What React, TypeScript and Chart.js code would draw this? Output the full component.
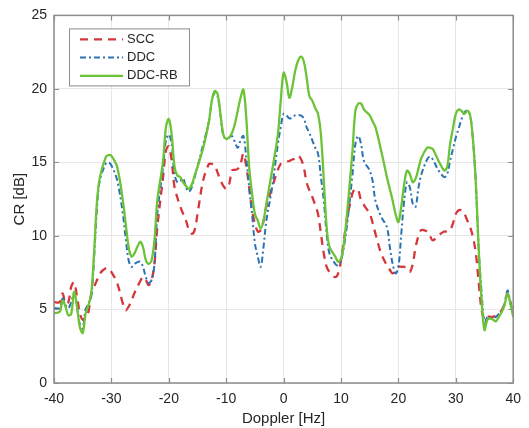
import React, { useEffect, useRef } from "react";
import { Chart, registerables } from "chart.js";

Chart.register(...registerables);

const dopplerHz = [
  -40, -39, -38.5, -38, -37.5, -37, -36.5, -36, -35.5, -35, -34.5, -34, -33.5, -33, -32.5, -32, -31, -30.5, -30, -29,
  -28, -27.5, -27, -26.5, -26, -25, -24.5, -24, -23.5, -23, -22.5, -22, -21, -20.5, -20, -19.5, -19, -18.5, -18, -17.5,
  -17, -16.5, -16, -15.5, -15, -14, -13, -12.5, -12, -11.5, -11, -10.5, -10, -9.5, -9, -8.5, -8, -7.5, -7, -6.5,
  -6, -5.5, -5, -4.5, -4, -3.5, -3, -2, -1, -0.5, 0, 0.5, 1, 1.5, 2, 2.5, 3, 3.5, 4, 4.5,
  5, 5.5, 6, 6.5, 7, 7.5, 8, 9, 9.5, 10, 10.5, 11, 12, 12.5, 13, 13.5, 14, 15, 15.5, 16,
  17, 18, 18.5, 19, 19.5, 20, 20.5, 21, 21.5, 22, 22.5, 23, 23.5, 24, 25, 25.5, 26, 27, 28, 28.5,
  29, 29.5, 30, 30.5, 31, 31.5, 32, 32.5, 33, 33.5, 34, 34.5, 35, 35.5, 36, 36.5, 37, 37.5, 38, 38.5,
  39, 39.5, 40,
];

const sccDb = [
  5.5, 5.5, 6.1, 5.4, 5.5, 6.55, 6.85, 5.9, 4.75, 4.3, 4.5, 4.85, 6.1, 6.55, 7.0, 7.45, 7.8, 7.8, 7.55, 6.8,
  5.4, 4.95, 5.2, 5.6, 6.1, 6.9, 7.2, 7.0, 6.65, 7.0, 8.1, 10.6, 14.0, 15.8, 16.1, 15.1, 13.3, 12.6, 12.0, 11.5,
  11.05, 10.4, 10.15, 10.4, 11.5, 13.8, 14.9, 14.9, 14.8, 14.3, 13.8, 13.4, 13.2, 13.5, 14.45, 14.5, 14.55, 14.9, 15.6, 14.7,
  13.3, 11.75, 10.85, 10.3, 10.4, 11.0, 12.0, 13.3, 14.5, 14.9, 15.0, 15.05, 15.1, 15.2, 15.25, 15.45, 15.25, 14.7, 13.65, 13.1,
  12.65, 12.1, 11.5, 10.15, 8.8, 7.9, 7.55, 7.2, 7.45, 8.35, 9.7, 11.05, 12.9, 13.2, 13.1, 12.4, 12.1, 11.5, 10.9, 10.15,
  8.8, 8.0, 7.7, 7.45, 7.65, 7.9, 7.9, 7.9, 7.7, 7.55, 8.1, 9.25, 10.0, 10.4, 10.3, 10.0, 9.7, 10.05, 10.3, 10.3,
  10.4, 10.85, 11.5, 11.75, 11.75, 11.5, 11.05, 10.6, 9.9, 8.8, 6.8, 4.95, 4.3, 4.5, 4.5, 4.5, 4.6, 4.75, 4.95, 5.4,
  6.1, 5.5, 4.6,
];

const ddcDb = [
  5.1, 5.1, 5.75, 5.3, 5.1, 5.5, 6.1, 5.2, 4.0, 3.7, 5.0, 5.4, 5.9, 8.6, 12.0, 13.8, 14.9, 15.0, 14.8, 13.8,
  11.5, 9.8, 8.35, 7.9, 8.1, 8.25, 7.9, 7.2, 6.8, 7.0, 8.1, 11.5, 14.7, 16.5, 16.9, 16.25, 14.2, 13.65, 13.75, 13.9,
  13.3, 13.0, 13.3, 14.0, 14.7, 16.25, 17.8, 19.2, 19.75, 19.5, 18.2, 16.8, 16.6, 16.7, 16.8, 16.4, 16.0, 16.5, 16.8, 15.3,
  13.3, 11.5, 9.5, 8.6, 7.9, 9.25, 11.05, 13.3, 16.25, 17.4, 18.3, 18.2, 18.0, 18.05, 18.2, 18.2, 18.2, 18.0, 17.4, 17.0,
  16.5, 16.0, 15.6, 14.0, 12.4, 10.15, 8.8, 8.1, 8.0, 8.35, 9.25, 10.6, 14.2, 16.25, 16.8, 16.25, 15.1, 14.45, 13.75, 12.4,
  11.3, 10.6, 9.25, 8.1, 7.45, 7.9, 10.15, 12.4, 13.65, 13.3, 12.2, 12.0, 13.3, 14.2, 15.2, 15.4, 15.2, 14.45, 14.0, 14.2,
  15.1, 15.9, 16.7, 17.3, 17.95, 18.4, 18.5, 18.2, 16.5, 13.5, 9.0, 6.1, 3.95, 4.5, 4.4, 4.45, 4.5, 4.7, 4.85, 5.4,
  6.3, 5.5, 4.75,
];

const ddcRbDb = [
  4.75, 4.85, 5.6, 5.2, 4.6, 4.7, 6.2, 5.2, 3.8, 3.4, 4.7, 5.3, 6.1, 9.0, 12.4, 14.0, 15.35, 15.5, 15.45, 14.7,
  12.4, 10.8, 9.25, 8.6, 8.8, 9.6, 9.25, 8.35, 8.1, 8.35, 9.7, 12.4, 15.1, 17.4, 17.95, 16.9, 14.7, 14.1, 14.0, 13.65,
  13.4, 13.2, 13.5, 14.1, 14.7, 16.0, 17.8, 19.2, 19.85, 19.65, 18.3, 16.9, 16.6, 16.7, 17.0, 17.6, 18.5, 19.4, 19.95, 18.0,
  14.7, 12.9, 11.5, 11.05, 10.5, 11.05, 12.2, 14.45, 16.9, 19.2, 21.1, 20.5, 19.4, 20.1, 21.2, 21.9, 22.2, 21.9, 20.8, 19.5,
  19.2, 18.7, 18.3, 16.9, 13.8, 10.6, 9.25, 8.6, 8.25, 8.45, 9.5, 11.3, 15.8, 18.5, 19.0, 19.0, 18.6, 18.2, 17.8, 17.4,
  15.8, 14.0, 13.2, 12.4, 11.5, 10.95, 12.0, 13.5, 14.45, 14.2, 13.65, 13.9, 14.6, 15.3, 16.0, 16.0, 15.9, 15.1, 14.45, 14.7,
  16.25, 17.3, 18.3, 18.6, 18.5, 18.3, 18.5, 18.2, 16.5, 13.5, 9.0, 5.6, 3.6, 4.3, 4.4, 4.3, 4.2, 4.5, 4.85, 5.3,
  6.1, 5.4, 4.5,
];

const seriesLabels = ["SCC", "DDC", "DDC-RB"];
const xTicks = [-40, -30, -20, -10, 0, 10, 20, 30, 40];
const yTicks = [0, 5, 10, 15, 20, 25];

const FONT = "'Liberation Sans', Arial, Helvetica, sans-serif";

const matlabBox = {
  id: "matlabBox",
  afterDatasetsDraw(chart: any) {
    const { ctx, chartArea } = chart;
    const { left, right, top, bottom } = chartArea;
    const xs = chart.scales.x;
    const ys = chart.scales.y;
    ctx.save();
    ctx.strokeStyle = "#8c8c8c";
    ctx.lineWidth = 1.2;
    ctx.beginPath();
    const tl = 5;
    xTicks.forEach((v) => {
      const p = Math.round(xs.getPixelForValue(v)) + 0.5;
      ctx.moveTo(p, bottom);
      ctx.lineTo(p, bottom - tl);
      ctx.moveTo(p, top);
      ctx.lineTo(p, top + tl);
    });
    yTicks.forEach((v) => {
      const p = Math.round(ys.getPixelForValue(v)) + 0.5;
      ctx.moveTo(left, p);
      ctx.lineTo(left + tl, p);
      ctx.moveTo(right, p);
      ctx.lineTo(right - tl, p);
    });
    ctx.stroke();
    ctx.lineWidth = 1.5;
    ctx.strokeRect(left, top, right - left, bottom - top);

    // legend
    const lx = left + 15;
    const ly = top + 13;
    const lw = 120;
    const lh = 57;
    ctx.fillStyle = "#ffffff";
    ctx.fillRect(lx, ly, lw, lh);
    ctx.strokeStyle = "#8c8c8c";
    ctx.lineWidth = 1;
    ctx.strokeRect(lx + 0.5, ly + 0.5, lw, lh);
    ctx.font = `13px ${FONT}`;
    ctx.textBaseline = "middle";
    ctx.textAlign = "left";
    chart.data.datasets.forEach((ds: any, i: number) => {
      const yy = ly + 11 + i * 18.2;
      ctx.save();
      ctx.strokeStyle = ds.borderColor;
      ctx.lineWidth = ds.borderWidth;
      ctx.setLineDash(ds.borderDash || []);
      ctx.beginPath();
      ctx.moveTo(lx + 11, yy);
      ctx.lineTo(lx + 54, yy);
      ctx.stroke();
      ctx.restore();
      ctx.fillStyle = "#262626";
      ctx.fillText(ds.label, lx + 58, yy);
    });
    ctx.restore();
  },
};

export default function App() {
  const ref = useRef<HTMLCanvasElement>(null);
  useEffect(() => {
    document.body.style.margin = "0";
    const canvas = ref.current;
    if (!canvas) return;
    const mk = (ys: number[]) => dopplerHz.map((x, i) => ({ x, y: ys[i] }));
    const chart = new Chart(canvas, {
      type: "line",
      data: {
        datasets: [
          {
            label: seriesLabels[0],
            data: mk(sccDb),
            borderColor: "#d6363a",
            borderWidth: 2.3,
            borderDash: [8, 6],
            pointRadius: 0,
            tension: 0.35,
            order: 2,
          },
          {
            label: seriesLabels[1],
            data: mk(ddcDb),
            borderColor: "#2a72b3",
            borderWidth: 2,
            borderDash: [6, 3, 2, 3],
            pointRadius: 0,
            tension: 0.35,
            order: 1,
          },
          {
            label: seriesLabels[2],
            data: mk(ddcRbDb),
            borderColor: "#6cc336",
            borderWidth: 2.3,
            pointRadius: 0,
            tension: 0.35,
            order: 0,
          },
        ],
      },
      plugins: [matlabBox],
      options: {
        responsive: false,
        animation: false,
        devicePixelRatio: 1,
        layout: { padding: { top: 14, right: 12, left: 0, bottom: 0 } },
        plugins: {
          legend: { display: false },
          tooltip: { enabled: false },
        },
        scales: {
          x: {
            type: "linear",
            min: -40,
            max: 40,
            afterBuildTicks: (s: any) => {
              s.ticks = xTicks.map((v) => ({ value: v }));
            },
            afterFit: (s: any) => {
              s.height = 45;
            },
            grid: { color: "#e6e6e6", lineWidth: 1, drawTicks: false },
            border: { display: false },
            ticks: {
              padding: 8,
              color: "#262626",
              font: { family: FONT, size: 14 },
              maxRotation: 0,
              autoSkip: false,
            },
            title: {
              display: true,
              text: "Doppler [Hz]",
              color: "#262626",
              font: { family: FONT, size: 15 },
              padding: { top: 0, bottom: 0 },
            },
          },
          y: {
            type: "linear",
            min: 0,
            max: 25,
            afterBuildTicks: (s: any) => {
              s.ticks = yTicks.map((v) => ({ value: v }));
            },
            afterFit: (s: any) => {
              s.width = 54;
            },
            grid: { color: "#e6e6e6", lineWidth: 1, drawTicks: false },
            border: { display: false },
            ticks: {
              padding: 7,
              color: "#262626",
              font: { family: FONT, size: 14 },
            },
            title: {
              display: true,
              text: "CR [dB]",
              color: "#262626",
              font: { family: FONT, size: 15 },
              padding: { top: 11, bottom: 0 },
            },
          },
        },
      },
    });
    return () => chart.destroy();
  }, []);
  return (
    <div style={{ width: 529, height: 428, background: "#ffffff" }}>
      <canvas ref={ref} width={529} height={428} />
    </div>
  );
}
